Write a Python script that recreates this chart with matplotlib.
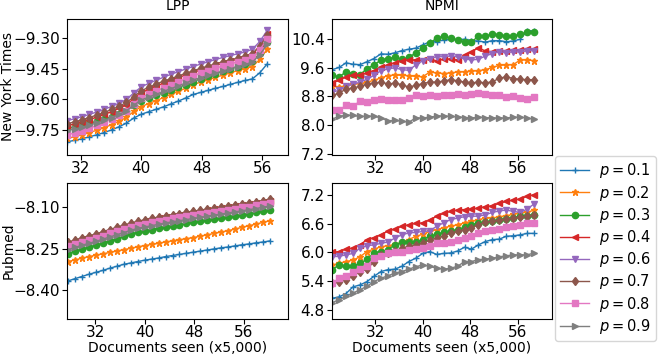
import numpy as np
import matplotlib
matplotlib.use("Agg")
import matplotlib.pyplot as plt

# probabilities and their styles (same order in every panel)
p_values = [0.1, 0.2, 0.3, 0.4, 0.6, 0.7, 0.8, 0.9]
markers = ['+', '*', 'o', '<', 'v', 'd', 's', '>']
colors = ['C0', 'C1', 'C2', 'C3', 'C4', 'C5', 'C6', 'C7']

# x grids (documents seen, x5,000)
x_nyt_lpp = np.round(30.2 + 0.98 * np.arange(28), 2)
x_pub_lpp = np.round(27.6 + 1.125 * np.arange(30), 2)
x_npmi = np.round(24.8 + 1.17 * np.arange(30), 2)

# New York Times, LPP
nyt_lpp_01 = [-9.806, -9.799, -9.791, -9.782, -9.772, -9.761, -9.748, -9.733, -9.715, -9.690, -9.672, -9.660, -9.648, -9.636,
              -9.622, -9.608, -9.593, -9.576, -9.566, -9.556, -9.546, -9.537, -9.527, -9.517, -9.508, -9.500, -9.470, -9.427]
nyt_lpp_02 = [-9.790, -9.781, -9.772, -9.761, -9.750, -9.737, -9.723, -9.707, -9.687, -9.658, -9.635, -9.620, -9.606, -9.591,
              -9.576, -9.561, -9.545, -9.528, -9.516, -9.505, -9.493, -9.482, -9.471, -9.460, -9.451, -9.440, -9.405, -9.355]
nyt_lpp_03 = [-9.741, -9.733, -9.725, -9.716, -9.706, -9.696, -9.684, -9.671, -9.655, -9.628, -9.606, -9.592, -9.580, -9.568,
              -9.555, -9.542, -9.528, -9.513, -9.500, -9.488, -9.476, -9.464, -9.452, -9.440, -9.428, -9.415, -9.376, -9.323]
nyt_lpp_04 = [-9.728, -9.719, -9.709, -9.698, -9.686, -9.673, -9.659, -9.643, -9.626, -9.596, -9.567, -9.551, -9.536, -9.521,
              -9.507, -9.494, -9.481, -9.469, -9.457, -9.446, -9.435, -9.424, -9.414, -9.404, -9.394, -9.380, -9.338, -9.283]
nyt_lpp_06 = [-9.703, -9.694, -9.684, -9.673, -9.661, -9.648, -9.634, -9.618, -9.600, -9.568, -9.539, -9.522, -9.507, -9.492,
              -9.478, -9.465, -9.452, -9.440, -9.428, -9.417, -9.406, -9.396, -9.387, -9.378, -9.369, -9.356, -9.318, -9.264]
nyt_lpp_07 = [-9.718, -9.709, -9.699, -9.688, -9.676, -9.663, -9.649, -9.633, -9.615, -9.587, -9.558, -9.541, -9.526, -9.511,
              -9.499, -9.486, -9.473, -9.461, -9.449, -9.438, -9.427, -9.417, -9.408, -9.399, -9.390, -9.377, -9.342, -9.288]
nyt_lpp_08 = [-9.773, -9.763, -9.752, -9.741, -9.726, -9.711, -9.694, -9.675, -9.654, -9.620, -9.592, -9.574, -9.559, -9.544,
              -9.528, -9.514, -9.499, -9.485, -9.472, -9.460, -9.448, -9.438, -9.428, -9.417, -9.408, -9.395, -9.358, -9.306]
nyt_lpp_09 = [-9.752, -9.744, -9.735, -9.725, -9.714, -9.702, -9.689, -9.673, -9.655, -9.627, -9.603, -9.588, -9.575, -9.561,
              -9.547, -9.534, -9.520, -9.505, -9.494, -9.483, -9.472, -9.462, -9.451, -9.440, -9.430, -9.418, -9.382, -9.332]

# New York Times, NPMI
nyt_npmi_01 = [9.55, 9.61, 9.74, 9.70, 9.69, 9.77, 9.86, 9.99, 9.98, 10.02, 10.08, 10.12, 10.15, 10.24, 10.33,
               10.33, 10.38, 10.40, 10.38, 10.40, 10.36, 10.35, 10.32, 10.36, 10.36, 10.33, 10.35, 10.40, 10.64, 10.63]
nyt_npmi_02 = [9.08, 9.06, 9.10, 9.14, 9.16, 9.20, 9.25, 9.32, 9.38, 9.40, 9.39, 9.38, 9.36, 9.35, 9.48,
               9.46, 9.44, 9.46, 9.48, 9.49, 9.51, 9.52, 9.55, 9.61, 9.67, 9.68, 9.69, 9.82, 9.82, 9.80]
nyt_npmi_03 = [9.39, 9.35, 9.49, 9.44, 9.41, 9.58, 9.68, 9.82, 9.86, 9.89, 9.84, 9.89, 10.02, 10.15, 10.29,
               10.43, 10.48, 10.43, 10.38, 10.33, 10.33, 10.48, 10.48, 10.55, 10.52, 10.49, 10.48, 10.55, 10.59, 10.59]
nyt_npmi_04 = [9.18, 9.25, 9.35, 9.39, 9.39, 9.46, 9.52, 9.61, 9.68, 9.74, 9.79, 9.83, 9.82, 9.82, 9.84,
               9.80, 9.84, 9.85, 9.82, 9.95, 10.05, 10.16, 10.07, 10.05, 10.08, 10.08, 10.10, 10.11, 10.12, 10.12]
nyt_npmi_06 = [8.92, 8.97, 9.08, 9.14, 9.20, 9.28, 9.39, 9.52, 9.57, 9.60, 9.55, 9.53, 9.68, 9.80, 9.86,
               9.91, 9.91, 9.93, 9.91, 9.85, 9.82, 9.84, 9.93, 10.00, 10.05, 10.02, 10.05, 10.04, 10.08, 10.08]
nyt_npmi_07 = [8.83, 8.89, 9.01, 9.04, 9.08, 9.14, 9.18, 9.20, 9.15, 9.17, 9.13, 9.06, 9.11, 9.16, 9.20,
               9.20, 9.23, 9.27, 9.24, 9.20, 9.18, 9.20, 9.18, 9.21, 9.31, 9.35, 9.30, 9.28, 9.27, 9.27]
nyt_npmi_08 = [8.43, 8.42, 8.55, 8.53, 8.67, 8.64, 8.71, 8.72, 8.71, 8.71, 8.69, 8.76, 8.83, 8.80, 8.83,
               8.80, 8.83, 8.84, 8.86, 8.84, 8.88, 8.89, 8.86, 8.85, 8.83, 8.79, 8.80, 8.76, 8.73, 8.78]
nyt_npmi_09 = [8.17, 8.24, 8.28, 8.27, 8.24, 8.25, 8.25, 8.20, 8.12, 8.13, 8.11, 8.08, 8.20, 8.20, 8.22,
               8.25, 8.26, 8.24, 8.23, 8.21, 8.20, 8.22, 8.21, 8.20, 8.20, 8.20, 8.22, 8.22, 8.20, 8.16]

# Pubmed, LPP
pub_lpp_01 = [-8.366, -8.358, -8.350, -8.342, -8.335, -8.328, -8.320, -8.313, -8.306, -8.301, -8.296, -8.291, -8.287, -8.283, -8.278,
              -8.274, -8.270, -8.266, -8.262, -8.258, -8.254, -8.250, -8.246, -8.243, -8.239, -8.235, -8.232, -8.228, -8.225, -8.221]
pub_lpp_02 = [-8.296, -8.290, -8.284, -8.278, -8.273, -8.268, -8.263, -8.258, -8.253, -8.248, -8.243, -8.238, -8.234, -8.230, -8.225,
              -8.221, -8.217, -8.213, -8.209, -8.204, -8.199, -8.194, -8.189, -8.184, -8.178, -8.172, -8.166, -8.160, -8.154, -8.148]
pub_lpp_03 = [-8.267, -8.259, -8.251, -8.244, -8.237, -8.229, -8.221, -8.213, -8.205, -8.197, -8.190, -8.185, -8.180, -8.175, -8.170,
              -8.166, -8.162, -8.158, -8.154, -8.150, -8.146, -8.142, -8.138, -8.134, -8.130, -8.126, -8.122, -8.118, -8.113, -8.109]
pub_lpp_04 = [-8.232, -8.224, -8.216, -8.209, -8.202, -8.194, -8.186, -8.178, -8.170, -8.162, -8.155, -8.150, -8.145, -8.140, -8.135,
              -8.131, -8.127, -8.123, -8.119, -8.115, -8.111, -8.107, -8.103, -8.099, -8.095, -8.091, -8.087, -8.083, -8.079, -8.075]
pub_lpp_06 = [-8.246, -8.238, -8.230, -8.223, -8.216, -8.208, -8.200, -8.192, -8.184, -8.177, -8.170, -8.165, -8.160, -8.155, -8.150,
              -8.146, -8.142, -8.138, -8.134, -8.130, -8.126, -8.122, -8.118, -8.114, -8.110, -8.106, -8.102, -8.099, -8.095, -8.092]
pub_lpp_07 = [-8.226, -8.218, -8.210, -8.203, -8.196, -8.188, -8.180, -8.172, -8.164, -8.157, -8.150, -8.145, -8.140, -8.135, -8.130,
              -8.126, -8.122, -8.118, -8.114, -8.110, -8.106, -8.102, -8.098, -8.094, -8.090, -8.086, -8.083, -8.079, -8.075, -8.071]
pub_lpp_08 = [-8.240, -8.232, -8.224, -8.217, -8.210, -8.202, -8.194, -8.186, -8.178, -8.171, -8.164, -8.159, -8.154, -8.149, -8.144,
              -8.140, -8.136, -8.132, -8.128, -8.124, -8.120, -8.116, -8.112, -8.108, -8.104, -8.100, -8.097, -8.093, -8.089, -8.085]
pub_lpp_09 = [-8.253, -8.245, -8.237, -8.230, -8.223, -8.215, -8.207, -8.199, -8.191, -8.183, -8.176, -8.171, -8.166, -8.161, -8.156,
              -8.152, -8.148, -8.144, -8.140, -8.136, -8.132, -8.128, -8.124, -8.120, -8.116, -8.112, -8.108, -8.104, -8.099, -8.095]

# Pubmed, NPMI
pub_npmi_01 = [5.04, 5.07, 5.14, 5.28, 5.32, 5.39, 5.50, 5.60, 5.64, 5.65, 5.71, 5.81, 5.88, 5.98, 6.02,
               5.96, 5.98, 5.99, 6.03, 6.11, 6.07, 6.16, 6.23, 6.27, 6.28, 6.34, 6.35, 6.37, 6.40, 6.40]
pub_npmi_02 = [5.74, 5.77, 5.81, 5.84, 5.91, 6.02, 6.07, 6.12, 6.14, 6.17, 6.21, 6.27, 6.34, 6.38, 6.44,
               6.48, 6.52, 6.55, 6.58, 6.62, 6.65, 6.69, 6.72, 6.72, 6.75, 6.77, 6.80, 6.83, 6.84, 6.89]
pub_npmi_03 = [5.64, 5.74, 5.71, 5.72, 5.77, 5.86, 5.99, 6.02, 6.06, 6.16, 6.21, 6.23, 6.23, 6.27, 6.34,
               6.38, 6.42, 6.44, 6.48, 6.53, 6.58, 6.62, 6.63, 6.65, 6.69, 6.71, 6.73, 6.76, 6.77, 6.79]
pub_npmi_04 = [6.00, 6.02, 6.07, 6.09, 6.16, 6.27, 6.31, 6.37, 6.45, 6.49, 6.55, 6.58, 6.61, 6.62, 6.68,
               6.76, 6.82, 6.86, 6.89, 6.90, 6.91, 6.93, 6.96, 6.98, 7.03, 7.07, 7.10, 7.12, 7.18, 7.21]
pub_npmi_06 = [5.91, 5.92, 5.95, 5.98, 6.09, 6.14, 6.16, 6.19, 6.22, 6.30, 6.37, 6.41, 6.42, 6.44, 6.45,
               6.55, 6.62, 6.69, 6.72, 6.75, 6.76, 6.76, 6.79, 6.84, 6.87, 6.89, 6.86, 6.84, 6.91, 7.02]
pub_npmi_07 = [5.36, 5.39, 5.43, 5.50, 5.60, 5.65, 5.81, 5.95, 5.99, 6.03, 6.09, 6.13, 6.15, 6.19, 6.26,
               6.30, 6.34, 6.41, 6.44, 6.48, 6.52, 6.58, 6.63, 6.65, 6.68, 6.70, 6.72, 6.75, 6.76, 6.79]
pub_npmi_08 = [5.35, 5.46, 5.50, 5.60, 5.65, 5.72, 5.88, 5.93, 5.98, 6.00, 6.02, 6.06, 6.07, 6.09, 6.14,
               6.19, 6.20, 6.23, 6.27, 6.31, 6.35, 6.41, 6.44, 6.48, 6.50, 6.53, 6.56, 6.58, 6.61, 6.62]
pub_npmi_09 = [4.95, 5.01, 5.08, 5.15, 5.22, 5.29, 5.39, 5.46, 5.51, 5.57, 5.60, 5.65, 5.70, 5.74, 5.71,
               5.67, 5.65, 5.67, 5.71, 5.81, 5.81, 5.85, 5.86, 5.88, 5.91, 5.93, 5.95, 5.95, 5.95, 5.99]

# tick labels
x_ticks = [32, 40, 48, 56]
nyt_lpp_ticks = [-9.75, -9.60, -9.45, -9.30]
nyt_npmi_ticks = [7.2, 8.0, 8.8, 9.6, 10.4]
pub_lpp_ticks = [-8.40, -8.25, -8.10]
pub_npmi_ticks = [4.8, 5.4, 6.0, 6.6, 7.2]


def draw_panel(ax, x, series, xlim, ylim, yticks):
    for vals, p, m, c in zip(series, p_values, markers, colors):
        ax.plot(x, vals, marker=m, color=c, markersize=4.5, linewidth=1,
                label='$p = %.1f$' % p)
    ax.set_xlim(*xlim)
    ax.set_ylim(*ylim)
    ax.set_xticks(x_ticks)
    ax.set_yticks(yticks)
    ax.tick_params(labelsize=11)
    ax.tick_params(axis='x', pad=0.8)
    ax.tick_params(axis='y', pad=1.8)


def main():
    fig = plt.figure(figsize=(6.59, 3.55), dpi=100)

    left_l, right_l = 0.102, 0.437
    left_r, right_r = 0.504, 0.837
    top_b, top_t = 0.563, 0.947
    bot_b, bot_t = 0.102, 0.485

    ax_tl = fig.add_axes([left_l, top_b, right_l - left_l, top_t - top_b])
    ax_tr = fig.add_axes([left_r, top_b, right_r - left_r, top_t - top_b])
    ax_bl = fig.add_axes([left_l, bot_b, right_l - left_l, bot_t - bot_b])
    ax_br = fig.add_axes([left_r, bot_b, right_r - left_r, bot_t - bot_b])

    draw_panel(ax_tl, x_nyt_lpp,
               [nyt_lpp_01, nyt_lpp_02, nyt_lpp_03, nyt_lpp_04, nyt_lpp_06, nyt_lpp_07, nyt_lpp_08, nyt_lpp_09],
               (30.2, 59.4), (-9.871, -9.208), nyt_lpp_ticks)
    draw_panel(ax_tr, x_npmi,
               [nyt_npmi_01, nyt_npmi_02, nyt_npmi_03, nyt_npmi_04, nyt_npmi_06, nyt_npmi_07, nyt_npmi_08, nyt_npmi_09],
               (24.8, 61.65), (7.16, 10.97), nyt_npmi_ticks)
    draw_panel(ax_bl, x_pub_lpp,
               [pub_lpp_01, pub_lpp_02, pub_lpp_03, pub_lpp_04, pub_lpp_06, pub_lpp_07, pub_lpp_08, pub_lpp_09],
               (27.5, 63.1), (-8.503, -8.011), pub_lpp_ticks)
    draw_panel(ax_br, x_npmi,
               [pub_npmi_01, pub_npmi_02, pub_npmi_03, pub_npmi_04, pub_npmi_06, pub_npmi_07, pub_npmi_08, pub_npmi_09],
               (24.8, 61.65), (4.61, 7.46), pub_npmi_ticks)

    ax_tl.set_title("LPP", fontsize=10)
    ax_tr.set_title("NPMI", fontsize=10)
    ax_tl.set_ylabel("New York Times", fontsize=10)
    ax_bl.set_ylabel("Pubmed", fontsize=10)
    ax_bl.set_xlabel("Documents seen (x5,000)", fontsize=10)
    ax_br.set_xlabel("Documents seen (x5,000)", fontsize=10)

    # labels sit closer to the ticks than matplotlib's defaults
    ax_tl.yaxis.set_label_coords(-0.235, 0.5)
    ax_bl.yaxis.set_label_coords(-0.235, 0.5)
    ax_bl.xaxis.set_label_coords(0.5, -0.165)
    ax_br.xaxis.set_label_coords(0.5, -0.165)

    handles, labels = ax_tl.get_legend_handles_labels()
    fig.legend(handles, labels, loc='upper left', bbox_to_anchor=(0.842, 0.56),
               fontsize=10.5, borderaxespad=0, labelspacing=0.22,
               borderpad=0.35, handletextpad=0.7)

    fig.savefig("out.png", dpi=100)


if __name__ == "__main__":
    main()
